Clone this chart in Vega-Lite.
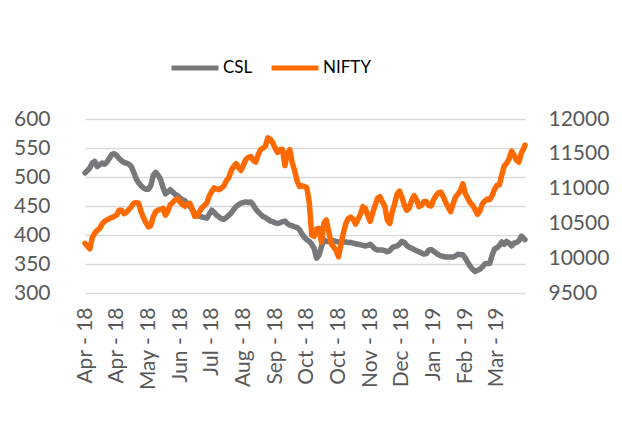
{
"$schema":"https://vega.github.io/schema/vega-lite/v6.json",
"width":440,"height":174,
"autosize":{"type":"none"},
"padding":{"left":85,"top":119,"right":97,"bottom":151},
"background":"white",
"config":{"view":{"stroke":null},"font":"Lato",
 "axis":{"labelFont":"Lato","labelFontSize":20,"labelColor":"#595959","ticks":false,"domain":false,"grid":false,"title":null},
 "legend":{"labelFont":"Lato"}},
"data":{"values":[
{"date":"2018-04-02","CSL":507,"NIFTY":10214},{"date":"2018-04-04","CSL":511,"NIFTY":10170},{"date":"2018-04-06","CSL":516,"NIFTY":10135},{"date":"2018-04-08","CSL":524,"NIFTY":10300},{"date":"2018-04-10","CSL":527,"NIFTY":10360},{"date":"2018-04-12","CSL":518,"NIFTY":10400},{"date":"2018-04-14","CSL":521,"NIFTY":10425},{"date":"2018-04-16","CSL":524,"NIFTY":10490},{"date":"2018-04-18","CSL":522,"NIFTY":10530},{"date":"2018-04-20","CSL":526,"NIFTY":10550},{"date":"2018-04-22","CSL":532,"NIFTY":10570},{"date":"2018-04-24","CSL":539,"NIFTY":10585},{"date":"2018-04-26","CSL":540,"NIFTY":10600},{"date":"2018-04-28","CSL":537,"NIFTY":10620},{"date":"2018-04-30","CSL":532,"NIFTY":10690},
{"date":"2018-05-02","CSL":528,"NIFTY":10690},{"date":"2018-05-04","CSL":525,"NIFTY":10640},{"date":"2018-05-06","CSL":524,"NIFTY":10660},{"date":"2018-05-08","CSL":522,"NIFTY":10700},{"date":"2018-05-10","CSL":518,"NIFTY":10740},{"date":"2018-05-12","CSL":508,"NIFTY":10790},{"date":"2018-05-14","CSL":497,"NIFTY":10800},{"date":"2018-05-16","CSL":490,"NIFTY":10790},{"date":"2018-05-18","CSL":485,"NIFTY":10670},{"date":"2018-05-20","CSL":481,"NIFTY":10580},{"date":"2018-05-22","CSL":479,"NIFTY":10510},{"date":"2018-05-24","CSL":479,"NIFTY":10450},{"date":"2018-05-26","CSL":485,"NIFTY":10470},{"date":"2018-05-28","CSL":503,"NIFTY":10596},{"date":"2018-05-30","CSL":508,"NIFTY":10670},
{"date":"2018-06-01","CSL":503,"NIFTY":10690},{"date":"2018-06-03","CSL":496,"NIFTY":10700},{"date":"2018-06-05","CSL":482,"NIFTY":10715},{"date":"2018-06-07","CSL":471,"NIFTY":10620},{"date":"2018-06-09","CSL":474,"NIFTY":10680},{"date":"2018-06-11","CSL":478,"NIFTY":10770},{"date":"2018-06-13","CSL":474,"NIFTY":10800},{"date":"2018-06-15","CSL":470,"NIFTY":10840},{"date":"2018-06-17","CSL":468,"NIFTY":10855},{"date":"2018-06-19","CSL":464,"NIFTY":10810},{"date":"2018-06-21","CSL":461,"NIFTY":10770},{"date":"2018-06-23","CSL":459,"NIFTY":10745},{"date":"2018-06-25","CSL":454,"NIFTY":10780},{"date":"2018-06-27","CSL":449,"NIFTY":10789},{"date":"2018-06-29","CSL":444,"NIFTY":10700},
{"date":"2018-07-01","CSL":438,"NIFTY":10600},{"date":"2018-07-03","CSL":435,"NIFTY":10610},{"date":"2018-07-05","CSL":432,"NIFTY":10670},{"date":"2018-07-07","CSL":431,"NIFTY":10725},{"date":"2018-07-09","CSL":430,"NIFTY":10760},{"date":"2018-07-11","CSL":429,"NIFTY":10795},{"date":"2018-07-13","CSL":436,"NIFTY":10900},{"date":"2018-07-15","CSL":443,"NIFTY":10960},{"date":"2018-07-17","CSL":439,"NIFTY":11010},{"date":"2018-07-19","CSL":434,"NIFTY":10995},{"date":"2018-07-21","CSL":431,"NIFTY":10985},{"date":"2018-07-23","CSL":428,"NIFTY":11010},{"date":"2018-07-25","CSL":427,"NIFTY":11040},{"date":"2018-07-27","CSL":430,"NIFTY":11115},{"date":"2018-07-29","CSL":434,"NIFTY":11160},{"date":"2018-07-31","CSL":438,"NIFTY":11260},
{"date":"2018-08-02","CSL":444,"NIFTY":11320},{"date":"2018-08-04","CSL":449,"NIFTY":11360},{"date":"2018-08-06","CSL":452,"NIFTY":11300},{"date":"2018-08-08","CSL":455,"NIFTY":11260},{"date":"2018-08-10","CSL":456,"NIFTY":11340},{"date":"2018-08-12","CSL":457,"NIFTY":11420},{"date":"2018-08-14","CSL":456,"NIFTY":11450},{"date":"2018-08-16","CSL":457,"NIFTY":11460},{"date":"2018-08-18","CSL":452,"NIFTY":11410},{"date":"2018-08-20","CSL":445,"NIFTY":11380},{"date":"2018-08-22","CSL":440,"NIFTY":11480},{"date":"2018-08-24","CSL":436,"NIFTY":11560},{"date":"2018-08-26","CSL":432,"NIFTY":11580},{"date":"2018-08-28","CSL":430,"NIFTY":11610},{"date":"2018-08-30","CSL":427,"NIFTY":11730},
{"date":"2018-09-01","CSL":424,"NIFTY":11710},{"date":"2018-09-03","CSL":423,"NIFTY":11660},{"date":"2018-09-05","CSL":421,"NIFTY":11580},{"date":"2018-09-07","CSL":420,"NIFTY":11520},{"date":"2018-09-09","CSL":421,"NIFTY":11560},{"date":"2018-09-11","CSL":423,"NIFTY":11560},{"date":"2018-09-13","CSL":424,"NIFTY":11330},{"date":"2018-09-15","CSL":420,"NIFTY":11500},{"date":"2018-09-17","CSL":417,"NIFTY":11560},{"date":"2018-09-19","CSL":416,"NIFTY":11370},{"date":"2018-09-21","CSL":414,"NIFTY":11260},{"date":"2018-09-23","CSL":413,"NIFTY":11110},{"date":"2018-09-25","CSL":409,"NIFTY":11030},{"date":"2018-09-27","CSL":402,"NIFTY":11040},{"date":"2018-09-29","CSL":396,"NIFTY":11030},
{"date":"2018-10-01","CSL":392,"NIFTY":11010},{"date":"2018-10-03","CSL":389,"NIFTY":10800},{"date":"2018-10-05","CSL":384,"NIFTY":10333},{"date":"2018-10-07","CSL":377,"NIFTY":10315},{"date":"2018-10-09","CSL":360,"NIFTY":10420},{"date":"2018-10-11","CSL":365,"NIFTY":10430},{"date":"2018-10-13","CSL":380,"NIFTY":10230},{"date":"2018-10-15","CSL":392,"NIFTY":10500},{"date":"2018-10-17","CSL":389,"NIFTY":10550},{"date":"2018-10-19","CSL":389,"NIFTY":10380},{"date":"2018-10-21","CSL":390,"NIFTY":10210},{"date":"2018-10-23","CSL":390,"NIFTY":10160},{"date":"2018-10-25","CSL":389,"NIFTY":10110},{"date":"2018-10-27","CSL":388,"NIFTY":10020},{"date":"2018-10-29","CSL":388,"NIFTY":10200},{"date":"2018-10-31","CSL":388,"NIFTY":10360},
{"date":"2018-11-02","CSL":388,"NIFTY":10500},{"date":"2018-11-04","CSL":387,"NIFTY":10570},{"date":"2018-11-06","CSL":387,"NIFTY":10590},{"date":"2018-11-08","CSL":386,"NIFTY":10560},{"date":"2018-11-10","CSL":385,"NIFTY":10490},{"date":"2018-11-12","CSL":384,"NIFTY":10560},{"date":"2018-11-14","CSL":383,"NIFTY":10630},{"date":"2018-11-16","CSL":382,"NIFTY":10740},{"date":"2018-11-18","CSL":381,"NIFTY":10715},{"date":"2018-11-20","CSL":382,"NIFTY":10610},{"date":"2018-11-22","CSL":384,"NIFTY":10530},{"date":"2018-11-24","CSL":380,"NIFTY":10650},{"date":"2018-11-26","CSL":376,"NIFTY":10760},{"date":"2018-11-28","CSL":374,"NIFTY":10860},{"date":"2018-11-30","CSL":374,"NIFTY":10884},
{"date":"2018-12-02","CSL":374,"NIFTY":10810},{"date":"2018-12-04","CSL":373,"NIFTY":10745},{"date":"2018-12-06","CSL":371,"NIFTY":10550},{"date":"2018-12-08","CSL":373,"NIFTY":10500},{"date":"2018-12-10","CSL":378,"NIFTY":10660},{"date":"2018-12-12","CSL":380,"NIFTY":10780},{"date":"2018-12-14","CSL":381,"NIFTY":10920},{"date":"2018-12-16","CSL":384,"NIFTY":10965},{"date":"2018-12-18","CSL":389,"NIFTY":10880},{"date":"2018-12-20","CSL":387,"NIFTY":10760},{"date":"2018-12-22","CSL":382,"NIFTY":10690},{"date":"2018-12-24","CSL":379,"NIFTY":10720},{"date":"2018-12-26","CSL":377,"NIFTY":10830},{"date":"2018-12-28","CSL":375,"NIFTY":10900},{"date":"2018-12-30","CSL":373,"NIFTY":10840},
{"date":"2019-01-01","CSL":371,"NIFTY":10740},{"date":"2019-01-03","CSL":369,"NIFTY":10760},{"date":"2019-01-05","CSL":367,"NIFTY":10810},{"date":"2019-01-07","CSL":368,"NIFTY":10815},{"date":"2019-01-09","CSL":374,"NIFTY":10760},{"date":"2019-01-11","CSL":375,"NIFTY":10750},{"date":"2019-01-13","CSL":372,"NIFTY":10840},{"date":"2019-01-15","CSL":369,"NIFTY":10900},{"date":"2019-01-17","CSL":366,"NIFTY":10940},{"date":"2019-01-19","CSL":364,"NIFTY":10950},{"date":"2019-01-21","CSL":363,"NIFTY":10880},{"date":"2019-01-23","CSL":362,"NIFTY":10800},{"date":"2019-01-25","CSL":362,"NIFTY":10730},{"date":"2019-01-27","CSL":362,"NIFTY":10670},{"date":"2019-01-29","CSL":362,"NIFTY":10780},{"date":"2019-01-31","CSL":364,"NIFTY":10880},
{"date":"2019-02-02","CSL":367,"NIFTY":10920},{"date":"2019-02-04","CSL":366,"NIFTY":10970},{"date":"2019-02-06","CSL":366,"NIFTY":11070},{"date":"2019-02-08","CSL":360,"NIFTY":10930},{"date":"2019-02-10","CSL":353,"NIFTY":10860},{"date":"2019-02-12","CSL":346,"NIFTY":10800},{"date":"2019-02-14","CSL":341,"NIFTY":10760},{"date":"2019-02-16","CSL":337,"NIFTY":10700},{"date":"2019-02-18","CSL":339,"NIFTY":10630},{"date":"2019-02-20","CSL":341,"NIFTY":10680},{"date":"2019-02-22","CSL":345,"NIFTY":10780},{"date":"2019-02-24","CSL":350,"NIFTY":10820},{"date":"2019-02-26","CSL":351,"NIFTY":10850},{"date":"2019-02-28","CSL":351,"NIFTY":10840},
{"date":"2019-03-02","CSL":365,"NIFTY":10900},{"date":"2019-03-04","CSL":376,"NIFTY":10990},{"date":"2019-03-06","CSL":378,"NIFTY":11050},{"date":"2019-03-08","CSL":382,"NIFTY":11055},{"date":"2019-03-10","CSL":388,"NIFTY":11200},{"date":"2019-03-12","CSL":384,"NIFTY":11330},{"date":"2019-03-14","CSL":389,"NIFTY":11363},{"date":"2019-03-16","CSL":386,"NIFTY":11430},{"date":"2019-03-18","CSL":381,"NIFTY":11540},{"date":"2019-03-20","CSL":386,"NIFTY":11480},{"date":"2019-03-22","CSL":387,"NIFTY":11410},{"date":"2019-03-24","CSL":390,"NIFTY":11380},{"date":"2019-03-26","CSL":398,"NIFTY":11510},{"date":"2019-03-28","CSL":394,"NIFTY":11580},{"date":"2019-03-29","CSL":392,"NIFTY":11626}
]},
"encoding":{
 "x":{"field":"date","type":"temporal",
  "scale":{"type":"utc","domain":[{"year":2018,"month":4,"date":2,"utc":true},{"year":2019,"month":3,"date":29,"utc":true}]},
  "axis":{"values":[
   {"year":2018,"month":4,"date":2,"utc":true},{"year":2018,"month":4,"date":28,"utc":true},{"year":2018,"month":5,"date":24,"utc":true},{"year":2018,"month":6,"date":19,"utc":true},{"year":2018,"month":7,"date":15,"utc":true},{"year":2018,"month":8,"date":10,"utc":true},{"year":2018,"month":9,"date":5,"utc":true},{"year":2018,"month":10,"date":1,"utc":true},{"year":2018,"month":10,"date":27,"utc":true},{"year":2018,"month":11,"date":22,"utc":true},{"year":2018,"month":12,"date":18,"utc":true},{"year":2019,"month":1,"date":13,"utc":true},{"year":2019,"month":2,"date":8,"utc":true},{"year":2019,"month":3,"date":6,"utc":true}],
   "format":"%b - %y","labelAngle":-90,"labelPadding":14,"labelFontSize":21,"labelOverlap":false,"labelBound":false,"labelFlush":false}}
},
"layer":[
 {"mark":{"type":"line","strokeWidth":5.5,"strokeCap":"round","strokeJoin":"round"},
  "encoding":{
   "y":{"field":"CSL","type":"quantitative","scale":{"domain":[300,600],"nice":false,"zero":false},
    "axis":{"values":[300,350,400,450,500,550,600],"grid":true,"gridColor":"#d9d9d9","gridWidth":1.5,"labelPadding":35,"labelFontSize":21}},
   "color":{"datum":"CSL","type":"nominal",
    "scale":{"domain":["CSL","NIFTY"],"range":["#77787b","#ff6a00"]},
    "legend":{"orient":"none","direction":"horizontal","legendX":84,"legendY":-77,"title":null,
     "symbolType":"stroke","symbolSize":2200,"symbolStrokeWidth":5,"labelFontSize":17,"labelColor":"#000000","labelOffset":2,"columnPadding":8,"padding":0}}}},
 {"mark":{"type":"line","strokeWidth":5.5,"strokeCap":"round","strokeJoin":"round"},
  "encoding":{
   "y":{"field":"NIFTY","type":"quantitative","scale":{"domain":[9500,12000],"nice":false,"zero":false},
    "axis":{"orient":"right","values":[9500,10000,10500,11000,11500,12000],"format":"d","grid":false,"labelPadding":23,"labelFontSize":21}},
   "color":{"datum":"NIFTY","type":"nominal"}}}
],
"resolve":{"scale":{"y":"independent"}}
}
